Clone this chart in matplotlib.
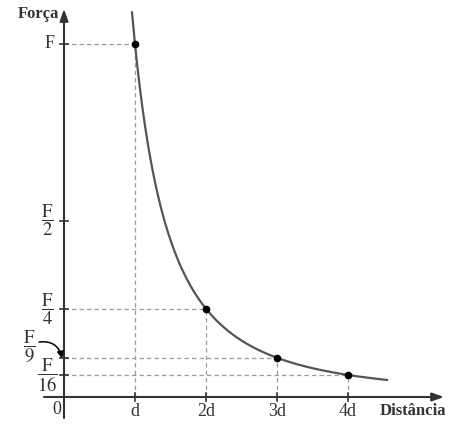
import numpy as np
import matplotlib
matplotlib.use("Agg")
import matplotlib.pyplot as plt

# Data (x in units of d, y in units of F)
x_points = [1, 2, 3, 4]
y_points = [1.0, 1/4, 1/9, 1/16]
x_tick_labels = ["d", "2d", "3d", "4d"]
y_ticks = [1.0, 1/2, 1/4, 1/9, 1/16]
y_tick_labels = ["F", r"$\dfrac{\mathrm{F}}{2}$", r"$\dfrac{\mathrm{F}}{4}$",
                 r"$\dfrac{\mathrm{F}}{9}$", r"$\dfrac{\mathrm{F}}{16}$"]
curve_x_start, curve_x_end = 0.958, 4.55

plt.rcParams['mathtext.fontset'] = 'stix'
plt.rcParams['font.family'] = ['Liberation Serif', 'DejaVu Serif']

fig = plt.figure(figsize=(4.56, 4.30), dpi=100)
ax = fig.add_axes([0, 0, 1, 1])
ax.set_xlim(-64/71, (456-64)/71)
ax.set_ylim((397-430)/353, 397/353)
ax.axis('off')

def px_x(p):
    return (p - 64) / 71
def px_y(p):
    return (397 - p) / 353

axis_col = '#333333'
dash_col = '#9a9a9a'

# axes with arrows
ax.annotate('', xy=(px_x(444), 0), xytext=(px_x(44), 0),
            arrowprops=dict(arrowstyle='-|>,head_length=0.7,head_width=0.25', color=axis_col, lw=1.5,
                            shrinkA=0, shrinkB=0))
ax.annotate('', xy=(0, px_y(9)), xytext=(0, px_y(418)),
            arrowprops=dict(arrowstyle='-|>,head_length=0.7,head_width=0.25', color=axis_col, lw=1.5,
                            shrinkA=0, shrinkB=0))

# dashed guides
for xp, yp in zip(x_points, y_points):
    ax.plot([0, xp], [yp, yp], ls=(0, (3.5, 2.5)), color=dash_col, lw=0.9)
    ax.plot([xp, xp], [0, yp], ls=(0, (3.5, 2.5)), color=dash_col, lw=0.9)

# curve
xs = np.linspace(curve_x_start, curve_x_end, 400)
ax.plot(xs, 1/xs**2, color='#555555', lw=1.6)
ax.plot(x_points, y_points, 'o', color='black', ms=4.5)

# ticks
tw = 4/71
th = 4/353
for yt in y_ticks:
    ax.plot([-tw, tw], [yt, yt], color=axis_col, lw=1.2)
for xt in x_points:
    ax.plot([xt, xt], [-th, th], color=axis_col, lw=1.2)

# tick labels
for xt, lab in zip(x_points, x_tick_labels):
    ax.text(xt, px_y(412), lab, ha='center', va='center', fontsize=13, color='#333333')
ax.text(px_x(57), px_y(409), "0", ha='center', va='center', fontsize=13, color='#333333')

label_pos = [(50, None), (47, None), (47, None), (29, px_y(347)), (47, None)]
for yt, lab, (lx, ly) in zip(y_ticks, y_tick_labels, label_pos):
    ax.text(px_x(lx), yt if ly is None else ly, lab, ha='center', va='center',
            fontsize=13.5 if lab != "F" else 13, color='#333333')

# curved arrow F/9
ax.annotate('', xy=(px_x(62), y_points[2] - 0.002), xytext=(px_x(39), px_y(342)),
            arrowprops=dict(arrowstyle='-|>,head_length=0.4,head_width=0.2', color='black', lw=1.1,
                            connectionstyle='arc3,rad=-0.45', shrinkA=0, shrinkB=0))

# axis titles
ax.text(px_x(38), px_y(14), "Força", ha='center', va='center', fontsize=12,
        fontweight='bold', color='#333333')
ax.text(px_x(413), px_y(411), "Distância", ha='center', va='center', fontsize=12,
        fontweight='bold', color='#333333')

fig.savefig('out.png', dpi=100)
